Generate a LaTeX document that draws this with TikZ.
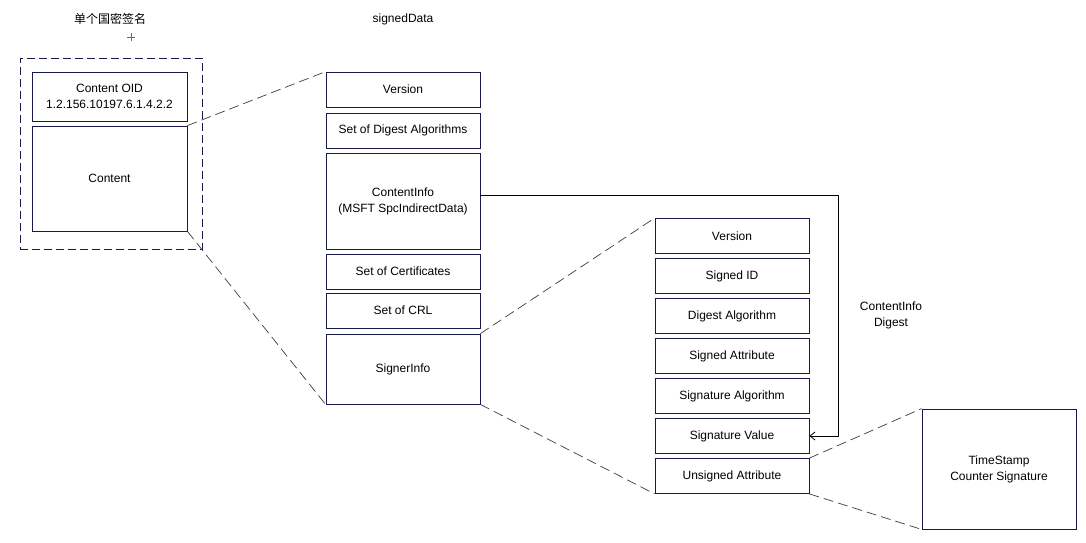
\documentclass[tikz,border=0pt]{standalone}
\usepackage{fontspec}
\setmainfont{Liberation Sans}
\newfontfamily\cjk{Noto Sans CJK SC}
\usetikzlibrary{arrows.meta}
\definecolor{boxline}{RGB}{22,26,74}
\definecolor{zoomgray}{RGB}{60,60,60}
\definecolor{pinblue}{RGB}{50,110,230}

\begin{document}
\begin{tikzpicture}[x=1pt, y=-1pt,
        every node/.style={font=\fontsize{12}{16}\selectfont, align=center},
        field/.style={draw=boxline, line width=0.8pt, inner sep=0pt,
                minimum width=154pt, minimum height=35pt},
        zoomline/.style={draw=zoomgray, line width=0.7pt,
                dash pattern=on 10pt off 5pt}]
    \useasboundingbox (0,0) rectangle (1086,542);

    % left: single signature
    \node (title) at (110, 19) {\cjk 单个国密签名};
    \node[draw=boxline, line width=0.9pt, dash pattern=on 8pt off 4pt,
        minimum width=182pt, minimum height=191pt] (wrap) at (111, 153.5) {};
    \node[field, minimum width=155pt, minimum height=49pt] (oid) at (109.5, 96.5)
        {Content OID\\1.2.156.10197.6.1.4.2.2};
    \node[field, minimum width=155pt, minimum height=105pt] (content) at (109.5, 178.5) {Content};
    \draw[pinblue, line width=1pt] (127,37) -- (135,37) (131,33) -- (131,41);

    % middle: signedData
    \node (sdata) at (403, 19) {signedData};
    \node[field] (ver) at (403, 89.5) {Version};
    \node[field] (digs) at (403, 130.5) {Set of Digest Algorithms};
    \node[field, minimum height=96pt] (cinfo) at (403, 201)
        {ContentInfo\\(MSFT SpcIndirectData)};
    \node[field] (certs) at (403, 271.5) {Set of Certificates};
    \node[field] (crl) at (403, 310.5) {Set of CRL};
    \node[field, minimum height=70pt] (signer) at (403, 369) {SignerInfo};

    % right: SignerInfo fields
    \foreach \n/\t [count=\i from 0] in {sver/Version, sid/Signed ID,
            dalg/Digest Algorithm, sattr/Signed Attribute,
            salg/Signature Algorithm, sval/Signature Value,
            uattr/Unsigned Attribute} {
            \node[field] (\n) at (732, 236+40*\i) {\t};
        }
    \node[field, minimum height=120pt] (tstamp) at (999, 469)
        {TimeStamp\\Counter Signature};
    \node (dlabel) at (891, 315) {ContentInfo\\Digest};

    % zoom lines
    \draw[zoomline] (content.north east) -- (ver.north west);
    \draw[zoomline] (content.south east) -- (signer.south west);
    \draw[zoomline] (signer.north east) -- (sver.north west);
    \draw[zoomline] (signer.south east) -- (uattr.south west);
    \draw[zoomline] (uattr.north east) -- (tstamp.north west);
    \draw[zoomline] (uattr.south east) -- (tstamp.south west);

    % digest arrow
    \coordinate (turn) at (838, 195);
    \draw[line width=0.8pt, -{Straight Barb[length=5pt, width=8pt]}]
        ([yshift=6pt]cinfo.east) -- (turn) |- (sval.east);
\end{tikzpicture}
\end{document}
